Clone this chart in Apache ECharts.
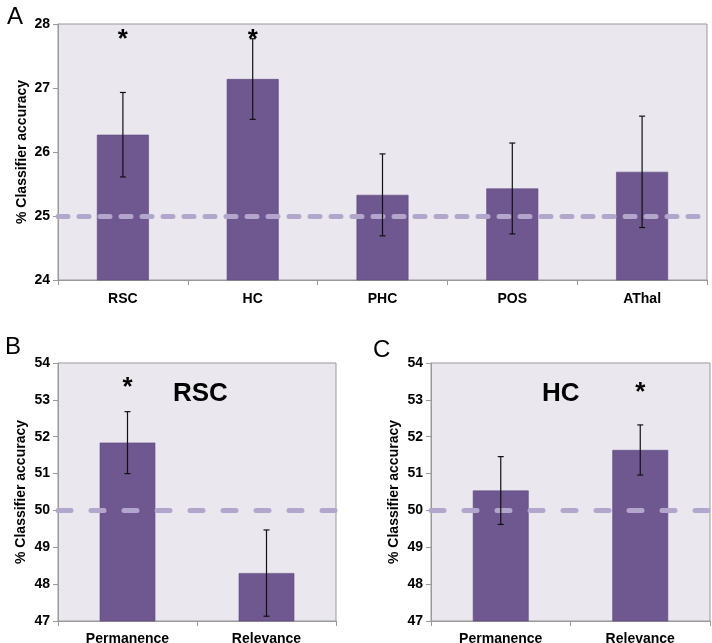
<!DOCTYPE html>
<html>
<head>
<meta charset="utf-8">
<script src="https://cdn.jsdelivr.net/npm/echarts@6/dist/echarts.min.js"></script>
<style>html,body{margin:0;padding:0;background:#fff;}#c{width:712px;height:643px;}</style>
</head>
<body>
<div id="c"></div>
<script>
// Panel A
const catsA = ['RSC', 'HC', 'PHC', 'POS', 'AThal'];
const meanA = [26.27, 27.14, 25.33, 25.43, 25.69];
const errA = [0.66, 0.63, 0.64, 0.71, 0.87];
const starsA = ['RSC', 'HC'];
const ticksA = [24, 25, 26, 27, 28];
const chanceA = 25;
// Panel B (RSC)
const catsB = ['Permanence', 'Relevance'];
const meanB = [51.84, 48.30];
const errB = [0.84, 1.17];
const starsB = ['Permanence'];
// Panel C (HC)
const catsC = ['Permanence', 'Relevance'];
const meanC = [50.54, 51.64];
const errC = [0.92, 0.68];
const starsC = ['Relevance'];
const ticksBC = [47, 48, 49, 50, 51, 52, 53, 54];
const chanceBC = 50;

const FONT = '"Liberation Sans", Arial, sans-serif';
const BAR = '#6F5790';
const DASH = '#B3A6CD';
const BG = '#EAE7EF';

function yAx(gi, ticks, gap) {
  return {
    gridIndex: gi, type: 'value', min: ticks[0], max: ticks[ticks.length - 1], interval: 1,
    name: '% Classifier accuracy', nameLocation: 'middle', nameGap: gap, nameMoveOverlap: false,
    nameTextStyle: { fontFamily: FONT, fontWeight: 'bold', fontSize: 14, color: '#000' },
    axisLine: { show: true, lineStyle: { color: '#999', width: 1 } },
    axisTick: { show: true, length: 5, lineStyle: { color: '#999' } },
    axisLabel: { fontFamily: FONT, fontWeight: 'bold', fontSize: 14, color: '#000', margin: 8 },
    splitLine: { show: false }
  };
}
function xAx(gi, cats, margin) {
  return {
    gridIndex: gi, type: 'category', data: cats,
    axisLine: { show: true, lineStyle: { color: '#999', width: 1 } },
    axisTick: { show: true, length: 5, lineStyle: { color: '#999' } },
    axisLabel: { fontFamily: FONT, fontWeight: 'bold', fontSize: 14, color: '#000', margin: margin },
    splitLine: { show: false }
  };
}
function barSeries(gi, vals, chance, dash) {
  return {
    type: 'bar', xAxisIndex: gi, yAxisIndex: gi, data: vals, barWidth: '40%',
    itemStyle: { color: BAR, borderColor: '#5E4880', borderWidth: 0.6 },
    z: 2, silent: true,
    markLine: {
      silent: true, symbol: 'none', label: { show: false }, z: 3,
      lineStyle: { color: DASH, width: 5, type: dash, cap: 'round' },
      data: [{ yAxis: chance }]
    }
  };
}
function errSeries(gi, vals, errs) {
  return {
    type: 'custom', xAxisIndex: gi, yAxisIndex: gi, z: 10, silent: true,
    data: vals.map((v, i) => [i, v - errs[i], v + errs[i]]),
    renderItem: function (params, api) {
      const lo = api.coord([api.value(0), api.value(1)]);
      const hi = api.coord([api.value(0), api.value(2)]);
      const w = 3;
      const st = { stroke: '#111', lineWidth: 1.2 };
      return {
        type: 'group', children: [
          { type: 'line', shape: { x1: lo[0], y1: lo[1], x2: hi[0], y2: hi[1] }, style: st },
          { type: 'line', shape: { x1: lo[0] - w, y1: lo[1], x2: lo[0] + w, y2: lo[1] }, style: st },
          { type: 'line', shape: { x1: hi[0] - w, y1: hi[1], x2: hi[0] + w, y2: hi[1] }, style: st }
        ]
      };
    }
  };
}
function starSeries(gi, cats, yv) {
  return {
    type: 'custom', xAxisIndex: gi, yAxisIndex: gi, z: 11, silent: true,
    data: cats.map(c => [c, yv]),
    encode: { x: 0, y: 1 },
    renderItem: function (params, api) {
      const p = api.coord([api.value(0), api.value(1)]);
      return {
        type: 'text',
        style: { text: '*', x: p[0], y: p[1], align: 'center', verticalAlign: 'middle',
          font: 'bold 26px ' + FONT, fill: '#000' }
      };
    }
  };
}
const gridBase = { show: true, backgroundColor: BG, borderColor: '#999', borderWidth: 1, containLabel: false, outerBoundsMode: 'none' };
const option = {
  animation: false,
  backgroundColor: '#fff',
  grid: [
    Object.assign({ left: 58, top: 24, width: 649, height: 256 }, gridBase),
    Object.assign({ left: 58, top: 363, width: 278, height: 258 }, gridBase),
    Object.assign({ left: 431, top: 363, width: 279, height: 258 }, gridBase)
  ],
  xAxis: [xAx(0, catsA, 12), xAx(1, catsB, 11), xAx(2, catsC, 11)],
  yAxis: [yAx(0, ticksA, 29), yAx(1, ticksBC, 30), yAx(2, ticksBC, 30)],
  title: [
    { text: 'A', left: 2, top: 0, textStyle: { fontFamily: FONT, fontWeight: 'normal', fontSize: 24, color: '#000' } },
    { text: 'B', left: 0, top: 330, textStyle: { fontFamily: FONT, fontWeight: 'normal', fontSize: 24, color: '#000' } },
    { text: 'C', left: 368, top: 333, textStyle: { fontFamily: FONT, fontWeight: 'normal', fontSize: 24, color: '#000' } },
    { text: 'RSC', left: 168, top: 376, textStyle: { fontFamily: FONT, fontWeight: 'bold', fontSize: 26, color: '#000' } },
    { text: 'HC', left: 537, top: 376, textStyle: { fontFamily: FONT, fontWeight: 'bold', fontSize: 26, color: '#000' } }
  ],
  series: [
    barSeries(0, meanA, chanceA, [10, 11]),
    errSeries(0, meanA, errA),
    starSeries(0, starsA, 27.75),
    barSeries(1, meanB, chanceBC, [13, 20]),
    errSeries(1, meanB, errB),
    starSeries(1, starsB, 53.33),
    barSeries(2, meanC, chanceBC, [13, 20]),
    errSeries(2, meanC, errC),
    starSeries(2, starsC, 53.2)
  ]
};
const chart = echarts.init(document.getElementById('c'), null, { renderer: 'canvas' });
chart.setOption(option);
</script>
</body>
</html>
